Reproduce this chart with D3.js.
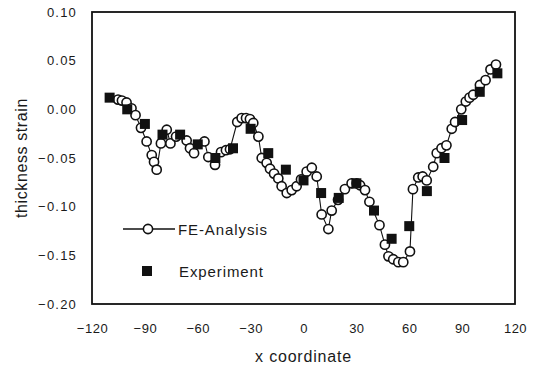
<!DOCTYPE html>
<html>
<head>
<meta charset="utf-8">
<script src="https://cdn.jsdelivr.net/npm/d3@7"></script>
<style>
  body { margin: 0; background: #fff; }
  text { font-family: "Liberation Sans", Arial, sans-serif; fill: #1a1a1a; }
</style>
</head>
<body>
<svg id="chart" width="538" height="366"></svg>
<script>
// FE-Analysis (x coordinate, thickness strain)
const feX = [-105.2, -103.0, -100.4, -97.6, -95.3, -92.2, -89.0, -86.1, -84.8, -83.3,
  -80.9, -77.6, -75.5, -72.3, -66.3, -64.4, -62.1, -56.2, -54.0, -50.2,
  -46.8, -44.0, -41.7, -37.6, -35.1, -32.6, -30.4, -28.5, -25.6, -23.7,
  -20.9, -19.0, -16.7, -14.3, -12.4, -9.5, -6.7, -3.9, -1.4, 1.8,
  4.7, 7.5, 10.3, 14.1, 16.0, 19.6, 23.5, 27.3, 30.2, 32.1,
  34.9, 37.4, 43.1, 46.2, 48.2, 50.9, 53.8, 56.6, 60.4, 62.1,
  65.1, 67.6, 69.9, 73.6, 75.6, 78.3, 81.1, 84.1, 86.0, 89.5,
  92.1, 94.2, 96.3, 100.1, 103.3, 106.1, 109.2]
const feY = [0.010, 0.009, 0.007, 0.001, -0.006, -0.019, -0.033, -0.047, -0.054, -0.062,
  -0.035, -0.021, -0.035, -0.028, -0.032, -0.040, -0.045, -0.033, -0.049, -0.057,
  -0.044, -0.042, -0.041, -0.013, -0.009, -0.009, -0.010, -0.014, -0.028, -0.050,
  -0.055, -0.061, -0.066, -0.071, -0.079, -0.086, -0.083, -0.079, -0.072, -0.064,
  -0.060, -0.069, -0.108, -0.123, -0.104, -0.093, -0.082, -0.076, -0.076, -0.078,
  -0.083, -0.095, -0.119, -0.139, -0.151, -0.154, -0.157, -0.157, -0.146, -0.082,
  -0.070, -0.069, -0.073, -0.059, -0.045, -0.040, -0.037, -0.020, -0.013, 0.000,
  0.008, 0.012, 0.015, 0.025, 0.030, 0.041, 0.046]

// Experiment
const expX = [-110, -100, -90, -80, -70, -60, -50, -40, -30, -20, -10, 0,
  10, 20, 30, 40, 50, 60, 70, 80, 90, 100, 110]
const expY = [0.012, 0.000, -0.015, -0.026, -0.026, -0.036, -0.050, -0.040, -0.020, -0.045, -0.062, -0.073,
  -0.086, -0.091, -0.076, -0.104, -0.133, -0.120, -0.084, -0.050, -0.011, 0.018, 0.037]

const xTicks = [-120, -90, -60, -30, 0, 30, 60, 90, 120]
const yTicks = [0.10, 0.05, 0.00, -0.05, -0.10, -0.15, -0.20]

const width = 538
const height = 366
const margin = {top: 12, right: 23, bottom: 62, left: 92}

const svg = d3.select('#chart')
const x = d3.scaleLinear().domain([-120, 120]).range([margin.left, width - margin.right])
const y = d3.scaleLinear().domain([-0.20, 0.10]).range([height - margin.bottom, margin.top])

// 坐标轴
const gx = svg.append('g')
  .attr('transform', `translate(0,${height - margin.bottom})`)
  .call(d3.axisBottom(x).tickValues(xTicks).tickSize(0).tickPadding(20).tickFormat(d3.format('d')))
gx.select('.domain').remove()
gx.selectAll('text').attr('font-size', 13).attr('letter-spacing', 0.5)
  .style('font-family', '"Liberation Sans", Arial, sans-serif').attr('fill', '#1a1a1a')

const gy = svg.append('g')
  .attr('transform', `translate(${margin.left},0)`)
  .call(d3.axisLeft(y).tickValues(yTicks).tickSize(0).tickPadding(15).tickFormat(d3.format('.2f')))
gy.select('.domain').remove()
gy.selectAll('text').attr('font-size', 13).attr('letter-spacing', 1.2)
  .style('font-family', '"Liberation Sans", Arial, sans-serif').attr('fill', '#1a1a1a')

// 边框
svg.append('rect')
  .attr('x', x(-120)).attr('y', y(0.10))
  .attr('width', x(120) - x(-120)).attr('height', y(-0.20) - y(0.10))
  .attr('fill', 'none').attr('stroke', '#111').attr('stroke-width', 1.8)

// 轴标题
svg.append('text')
  .attr('x', (x(-120) + x(120)) / 2).attr('y', 362)
  .attr('text-anchor', 'middle').attr('font-size', 16).attr('letter-spacing', 0.8)
  .text('x coordinate')

svg.append('text')
  .attr('transform', `translate(27,${(y(0.10) + y(-0.20)) / 2}) rotate(-90)`)
  .attr('text-anchor', 'middle').attr('font-size', 16).attr('letter-spacing', 0.6)
  .text('thickness strain')

// FE 曲线
const fe = feX.map((d, i) => [d, feY[i]])
const line = d3.line().x((d) => x(d[0])).y((d) => y(d[1]))

svg.append('path')
  .datum(fe)
  .attr('d', line)
  .attr('fill', 'none').attr('stroke', '#111').attr('stroke-width', 1.1)

svg.append('g').selectAll('circle')
  .data(fe)
  .join('circle')
  .attr('cx', (d) => x(d[0])).attr('cy', (d) => y(d[1]))
  .attr('r', 4.6)
  .attr('fill', '#fff').attr('stroke', '#111').attr('stroke-width', 1.6)

// 实验点
const exp = expX.map((d, i) => [d, expY[i]])
const sq = 10
svg.append('g').selectAll('rect')
  .data(exp)
  .join('rect')
  .attr('x', (d) => x(d[0]) - sq / 2).attr('y', (d) => y(d[1]) - sq / 2)
  .attr('width', sq).attr('height', sq)
  .attr('fill', '#111')

// 图例
const legend = svg.append('g')
legend.append('line')
  .attr('x1', 123).attr('x2', 175).attr('y1', 229).attr('y2', 229)
  .attr('stroke', '#111').attr('stroke-width', 1.4)
legend.append('circle')
  .attr('cx', 148).attr('cy', 229).attr('r', 4.6)
  .attr('fill', '#fff').attr('stroke', '#111').attr('stroke-width', 1.6)
legend.append('text')
  .attr('x', 178).attr('y', 235).attr('font-size', 15).attr('letter-spacing', 0.9)
  .text('FE-Analysis')
legend.append('rect')
  .attr('x', 147 - sq / 2).attr('y', 271 - sq / 2).attr('width', sq).attr('height', sq)
  .attr('fill', '#111')
legend.append('text')
  .attr('x', 179).attr('y', 277).attr('font-size', 15).attr('letter-spacing', 0.9)
  .text('Experiment')
</script>
</body>
</html>
